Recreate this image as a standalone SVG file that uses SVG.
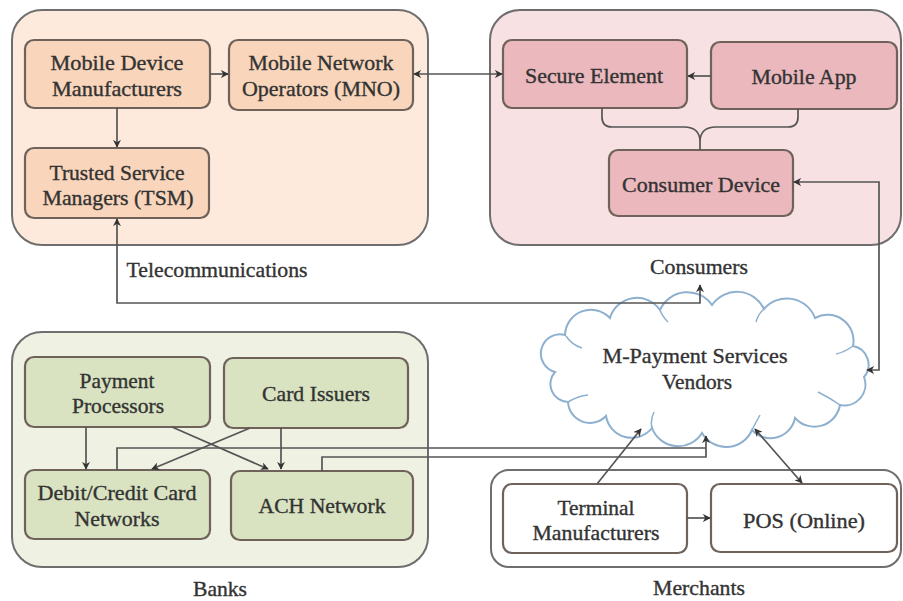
<svg xmlns="http://www.w3.org/2000/svg" width="903" height="601" viewBox="0 0 903 601">
<style>
.grp{stroke:#6e6e6e;stroke-width:2}
.box{stroke:#6f625b;stroke-width:2.2}
.t{font-family:"Liberation Serif","Times New Roman",serif;font-size:21px;fill:#333;stroke:#333;stroke-width:0.35;text-anchor:middle}
.c{fill:none;stroke:#555;stroke-width:1.7}
</style>
<defs>
<marker id="ah" viewBox="0 0 10 10" refX="9" refY="5" markerWidth="8" markerHeight="8" orient="auto-start-reverse" markerUnits="userSpaceOnUse">
<path d="M0,0 L10,5 L0,10 L3,5 z" fill="#333"/>
</marker>
</defs>
<rect width="903" height="601" fill="#ffffff"/>

<g id="telecom">
<rect class="grp" x="12" y="10" width="416" height="235" rx="30" fill="#fdeadd"/>
<text class="t" x="217" y="277" textLength="181" lengthAdjust="spacingAndGlyphs">Telecommunications</text>
</g>
<g id="consumers">
<rect class="grp" x="490" y="10" width="411" height="235" rx="30" fill="#f7e1e3"/>
<text class="t" x="699" y="274" textLength="98" lengthAdjust="spacingAndGlyphs">Consumers</text>
</g>
<g id="banks">
<rect class="grp" x="12" y="332" width="416" height="235" rx="30" fill="#eff2e3"/>
<text class="t" x="220" y="596" textLength="54" lengthAdjust="spacingAndGlyphs">Banks</text>
</g>
<g id="merchants">
<rect class="grp" x="491" y="470" width="410" height="97" rx="18" fill="#ffffff"/>
<text class="t" x="699" y="595" textLength="92" lengthAdjust="spacingAndGlyphs">Merchants</text>
</g>

<g id="mdm">
<rect class="box" x="25" y="40" width="185" height="68" rx="9" fill="#f9d6bb"/>
<text class="t" x="117" y="70" textLength="133" lengthAdjust="spacingAndGlyphs">Mobile Device</text>
<text class="t" x="117" y="96" textLength="130" lengthAdjust="spacingAndGlyphs">Manufacturers</text>
</g>
<g id="mno">
<rect class="box" x="229" y="40" width="184" height="70" rx="9" fill="#f9d6bb"/>
<text class="t" x="321" y="70" textLength="145" lengthAdjust="spacingAndGlyphs">Mobile Network</text>
<text class="t" x="321" y="96" textLength="158" lengthAdjust="spacingAndGlyphs">Operators (MNO)</text>
</g>
<g id="tsm">
<rect class="box" x="25" y="148" width="184" height="70" rx="9" fill="#f9d6bb"/>
<text class="t" x="117" y="180" textLength="135" lengthAdjust="spacingAndGlyphs">Trusted Service</text>
<text class="t" x="118" y="205" textLength="151" lengthAdjust="spacingAndGlyphs">Managers (TSM)</text>
</g>

<g id="se">
<rect class="box" x="503" y="40" width="184" height="68" rx="9" fill="#eab8bd"/>
<text class="t" x="594" y="83" textLength="138" lengthAdjust="spacingAndGlyphs">Secure Element</text>
</g>
<g id="app">
<rect class="box" x="711" y="42" width="186" height="67" rx="9" fill="#eab8bd"/>
<text class="t" x="804" y="84" textLength="105" lengthAdjust="spacingAndGlyphs">Mobile App</text>
</g>
<g id="device">
<rect class="box" x="609" y="150" width="184" height="66" rx="9" fill="#eab8bd"/>
<text class="t" x="701" y="192" textLength="158" lengthAdjust="spacingAndGlyphs">Consumer Device</text>
</g>

<g id="pp">
<rect class="box" x="25" y="357" width="185" height="70" rx="9" fill="#d9e3c1"/>
<text class="t" x="117" y="388" textLength="75" lengthAdjust="spacingAndGlyphs">Payment</text>
<text class="t" x="118" y="413" textLength="92" lengthAdjust="spacingAndGlyphs">Processors</text>
</g>
<g id="ci">
<rect class="box" x="224" y="358" width="184" height="70" rx="9" fill="#d9e3c1"/>
<text class="t" x="316" y="401" textLength="108" lengthAdjust="spacingAndGlyphs">Card Issuers</text>
</g>
<g id="dccn">
<rect class="box" x="25" y="470" width="185" height="69" rx="9" fill="#d9e3c1"/>
<text class="t" x="117" y="500" textLength="159" lengthAdjust="spacingAndGlyphs">Debit/Credit Card</text>
<text class="t" x="117" y="526" textLength="85" lengthAdjust="spacingAndGlyphs">Networks</text>
</g>
<g id="ach">
<rect class="box" x="231" y="471" width="182" height="69" rx="9" fill="#d9e3c1"/>
<text class="t" x="322" y="513" textLength="127" lengthAdjust="spacingAndGlyphs">ACH Network</text>
</g>

<g id="vendors">
<path d="M555,372 A18,18 0 0 1 565,335 A26,26 0 0 1 610,318 A28,28 0 0 1 660,310 A30,30 0 0 1 712,305 A30,30 0 0 1 764,309 A30,30 0 0 1 815,318 A26,26 0 0 1 853,346 A19,19 0 0 1 864,377 A21,21 0 0 1 840,405 A26,26 0 0 1 795,418 A25,25 0 0 1 752,430 A28,28 0 0 1 702,433 A28,28 0 0 1 652,428 A26,26 0 0 1 606,416 A22,22 0 0 1 568,402 A18,18 0 0 1 555,372 z" fill="#ffffff" stroke="#8eb0cf" stroke-width="2"/>
<path d="M566,336 Q572,345 582,348 M660,310 Q662,316 668,322 M764,309 Q758,314 756,322 M853,346 Q845,352 836,354 M840,405 Q830,398 818,392 M752,430 Q756,422 760,415 M652,428 Q650,420 654,412 M568,402 Q578,396 588,395" fill="none" stroke="#8eb0cf" stroke-width="1.5"/>
<text class="t" x="695" y="363" textLength="185" lengthAdjust="spacingAndGlyphs">M-Payment Services</text>
<text class="t" x="697" y="389" textLength="70" lengthAdjust="spacingAndGlyphs">Vendors</text>
</g>

<g id="terminal">
<rect class="box" x="503" y="484" width="184" height="69" rx="9" fill="#ffffff"/>
<text class="t" x="596" y="515" textLength="77" lengthAdjust="spacingAndGlyphs">Terminal</text>
<text class="t" x="596" y="540" textLength="127" lengthAdjust="spacingAndGlyphs">Manufacturers</text>
</g>
<g id="pos">
<rect class="box" x="711" y="484" width="186" height="68" rx="9" fill="#ffffff"/>
<text class="t" x="804" y="528" textLength="122" lengthAdjust="spacingAndGlyphs">POS (Online)</text>
</g>

<g id="connectors">
<path class="c" d="M210,74 L228,74" marker-end="url(#ah)"/>
<path class="c" d="M117,108 L117,147" marker-end="url(#ah)"/>
<path class="c" d="M414,74 L502,74" marker-start="url(#ah)" marker-end="url(#ah)"/>
<path class="c" d="M711,76 L688,76" marker-end="url(#ah)"/>
<path class="c" d="M602,108 L602,117 Q602,127 612,127 L684,127 Q700,127 700,142 L700,150 M798,109 L798,117 Q798,127 788,127 L716,127 Q700,127 700,142"/>
<path class="c" d="M794,182 L879,182 L879,370 L867,370" marker-start="url(#ah)" marker-end="url(#ah)"/>
<path class="c" d="M117,219 L117,303 L700,303 L700,285" marker-start="url(#ah)" marker-end="url(#ah)"/>
<path class="c" d="M86,427 L86,469" marker-end="url(#ah)"/>
<path class="c" d="M172,427 L268,469" marker-end="url(#ah)"/>
<path class="c" d="M250,428 L152,469" marker-end="url(#ah)"/>
<path class="c" d="M281,428 L281,469" marker-end="url(#ah)"/>
<path class="c" d="M117,470 L117,448 L706,448"/>
<path class="c" d="M322,471 L322,457 L706,457 L706,436" marker-end="url(#ah)"/>
<path class="c" d="M597,484 L641,429" marker-end="url(#ah)"/>
<path class="c" d="M755,429 L802,483" marker-start="url(#ah)" marker-end="url(#ah)"/>
<path class="c" d="M687,518 L710,518" marker-end="url(#ah)"/>
</g>
</svg>
